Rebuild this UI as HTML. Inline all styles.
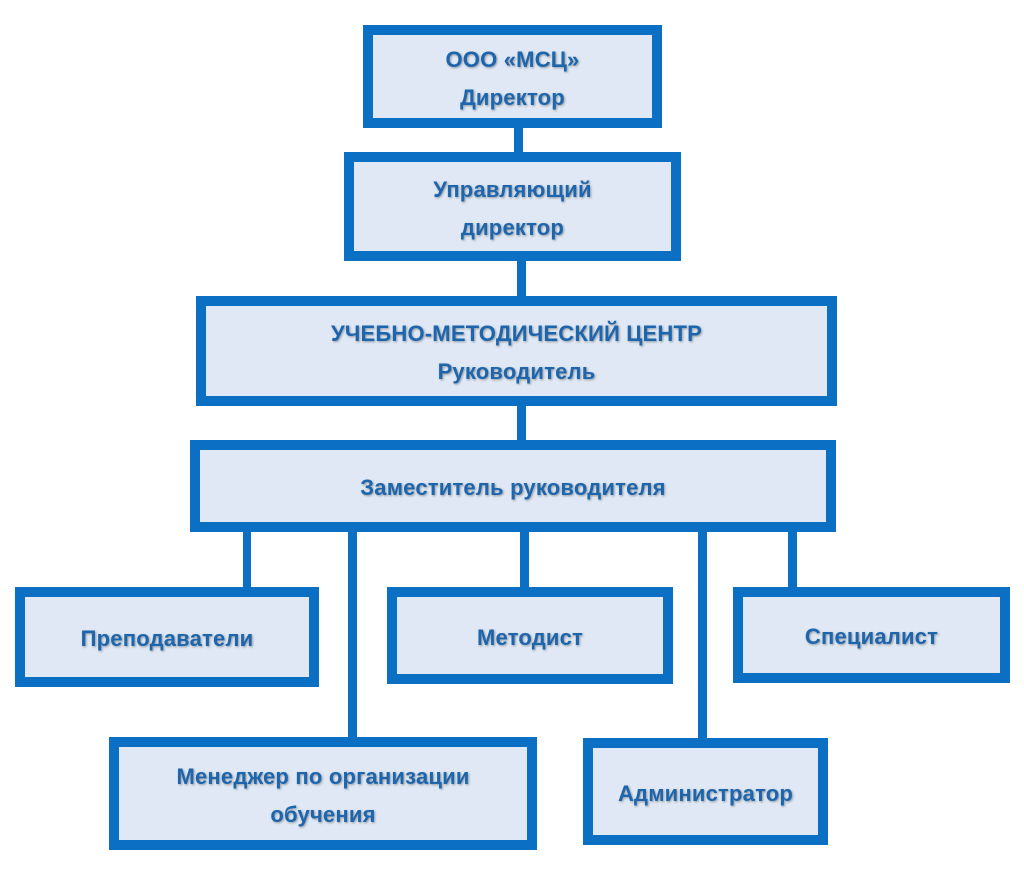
<!DOCTYPE html>
<html><head><meta charset="utf-8"><style>
body{margin:0;width:1024px;height:875px;background:#fff;position:relative;overflow:hidden;font-family:"Liberation Sans",sans-serif}
.b{position:absolute;box-sizing:border-box;border:10px solid #0b6fc3;background:#dfe8f4;display:flex;align-items:center;justify-content:center;text-align:center;color:#1d66ad;font-weight:bold;font-size:22px;line-height:38px;text-shadow:1px 1px 2px rgba(0,0,0,0.35);letter-spacing:0.2px;padding-top:4px}
.l{position:absolute;background:#0b6fc3}
</style></head><body>
<div class="l" style="left:514px;top:120px;width:9px;height:40px"></div>
<div class="l" style="left:517px;top:255px;width:9px;height:45px"></div>
<div class="l" style="left:517px;top:400px;width:9px;height:45px"></div>
<div class="l" style="left:243px;top:525px;width:8px;height:65px"></div>
<div class="l" style="left:348px;top:525px;width:9px;height:215px"></div>
<div class="l" style="left:520px;top:525px;width:9px;height:65px"></div>
<div class="l" style="left:698px;top:525px;width:9px;height:215px"></div>
<div class="l" style="left:788px;top:525px;width:9px;height:65px"></div>

<div class="b" style="left:363px;top:25px;width:299px;height:103px">ООО «МСЦ»<br>Директор</div>
<div class="b" style="left:344px;top:152px;width:337px;height:109px">Управляющий<br>директор</div>
<div class="b" style="left:196px;top:296px;width:641px;height:110px">УЧЕБНО-МЕТОДИЧЕСКИЙ ЦЕНТР<br>Руководитель</div>
<div class="b" style="left:190px;top:440px;width:646px;height:92px">Заместитель руководителя</div>
<div class="b" style="left:15px;top:587px;width:304px;height:100px">Преподаватели</div>
<div class="b" style="left:387px;top:587px;width:286px;height:97px">Методист</div>
<div class="b" style="left:733px;top:587px;width:277px;height:96px">Специалист</div>
<div class="b" style="left:109px;top:737px;width:428px;height:113px">Менеджер по организации<br>обучения</div>
<div class="b" style="left:583px;top:738px;width:245px;height:107px">Администратор</div>
</body></html>
